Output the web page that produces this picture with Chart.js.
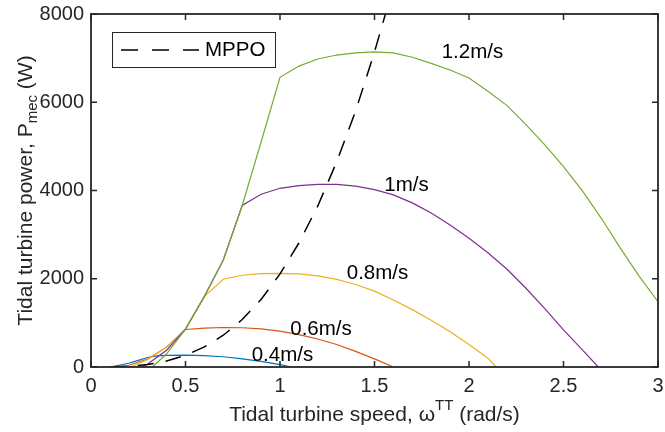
<!DOCTYPE html>
<html>
<head>
<meta charset="utf-8">
<script src="https://cdn.jsdelivr.net/npm/chart.js@4.4.1/dist/chart.umd.min.js"></script>
<style>
  html, body { margin: 0; padding: 0; background: #fff; }
  #wrap { width: 665px; height: 432px; }
</style>
</head>
<body>
<div id="wrap"><canvas id="chart" width="665" height="432"></canvas></div>
<script>
// Tidal turbine power vs rotor speed for five tidal speeds, plus the MPPO trajectory

const xTicks = [0, 0.5, 1, 1.5, 2, 2.5, 3];
const yTicks = [0, 2000, 4000, 6000, 8000];

const speedNames = ['0.4m/s', '0.6m/s', '0.8m/s', '1m/s', '1.2m/s'];
const mppoName = 'MPPO';

// rotor speed (rad/s) and mechanical power (W), one pair per tidal speed
const omega04 = [0.1, 0.2, 0.25, 0.3, 0.35, 0.4, 0.5, 0.6, 0.7, 0.8, 0.9, 1.0, 1.06];
const power04 = [0, 85, 150, 215, 252, 265, 268, 258, 232, 185, 128, 55, 0];

const omega06 = [0.16, 0.2, 0.3, 0.4, 0.5, 0.6, 0.7, 0.8, 0.9, 1.0, 1.1, 1.2, 1.3, 1.4, 1.5, 1.6];
const power06 = [0, 40, 180, 450, 850, 880, 895, 890, 865, 815, 735, 635, 510, 355, 185, 0];

const omega08 = [0.21, 0.3, 0.4, 0.5, 0.6, 0.7, 0.8, 0.9, 1.0, 1.1, 1.2, 1.3, 1.4, 1.5, 1.6, 1.7, 1.8, 1.9, 2.0, 2.1, 2.143];
const power08 = [0, 170, 450, 860, 1600, 1990, 2080, 2115, 2120, 2110, 2065, 1985, 1870, 1720, 1520, 1300, 1060, 800, 510, 200, 0];

const omega10 = [0.27, 0.3, 0.4, 0.5, 0.6, 0.7, 0.8, 0.9, 1.0, 1.1, 1.2, 1.3, 1.4, 1.5, 1.6, 1.7, 1.8, 1.9, 2.0, 2.1, 2.2, 2.3, 2.4, 2.5, 2.6, 2.684];
const power10 = [0, 70, 380, 860, 1600, 2425, 3660, 3915, 4050, 4110, 4140, 4140, 4100, 4020, 3900, 3720, 3490, 3220, 2920, 2590, 2220, 1790, 1330, 840, 390, 0];

const omega12 = [0.325, 0.4, 0.5, 0.6, 0.7, 0.8, 0.9, 1.0, 1.1, 1.2, 1.3, 1.4, 1.5, 1.6, 1.7, 1.8, 1.9, 2.0, 2.1, 2.2, 2.3, 2.4, 2.5, 2.6, 2.7, 2.8, 2.9, 3.0];
const power12 = [0, 300, 860, 1600, 2425, 3660, 5100, 6565, 6820, 6980, 7070, 7120, 7140, 7120, 7020, 6880, 6730, 6550, 6250, 5930, 5500, 5040, 4540, 3990, 3370, 2700, 2060, 1480];

const omegaMppo = [0.1, 0.2, 0.3, 0.4, 0.5, 0.6, 0.7, 0.8, 0.9, 1.0, 1.1, 1.2, 1.3, 1.4, 1.5, 1.56];
const powerMppo = [2, 17, 57, 135, 264, 455, 720, 1075, 1530, 2110, 2810, 3650, 4650, 5800, 7140, 8030];

// where each speed label sits, in data units (centre of text)
const labelOmega = [1.013, 1.217, 1.516, 1.669, 2.018];
const labelPower = [272, 861, 2130, 4124, 7138];

const COLORS = ['#0072BD', '#D95319', '#EDB120', '#7E2F8E', '#77AC30'];
const AXIS = '#262626';
const FONT = '"Liberation Sans", Arial, sans-serif';
const DASH = [16, 12];

function pairs(xs, ys) {
  return xs.map((x, i) => ({ x, y: ys[i] }));
}

const curves = [
  [omega04, power04], [omega06, power06], [omega08, power08],
  [omega10, power10], [omega12, power12]
];

// Chart.js puts dataset 0 on top, so MPPO first, then 1.2 down to 0.4
const datasets = [{
  label: mppoName,
  data: pairs(omegaMppo, powerMppo),
  borderColor: '#000',
  borderWidth: 1.5,
  borderDash: DASH,
  pointRadius: 0,
  tension: 0
}];
for (let i = curves.length - 1; i >= 0; i--) {
  datasets.push({
    label: speedNames[i],
    data: pairs(curves[i][0], curves[i][1]),
    borderColor: COLORS[i],
    borderWidth: 1.2,
    pointRadius: 0,
    tension: 0
  });
}

function drawRich(ctx, pieces, x, y) {
  let total = 0;
  pieces.forEach(p => {
    ctx.font = p.size + 'px ' + FONT;
    p.w = ctx.measureText(p.text).width;
    total += p.w;
  });
  let cx = x - total / 2;
  pieces.forEach(p => {
    ctx.font = p.size + 'px ' + FONT;
    ctx.fillText(p.text, cx, y + (p.dy || 0));
    cx += p.w;
  });
}

const decorPlugin = {
  id: 'decor',
  afterDraw(chart) {
    const { ctx, chartArea: a, scales } = chart;
    const xs = scales.x, ys = scales.y;
    ctx.save();

    // box and inward ticks on all four sides
    ctx.strokeStyle = AXIS;
    ctx.lineWidth = 1.8;
    ctx.setLineDash([]);
    ctx.strokeRect(a.left, a.top, a.right - a.left, a.bottom - a.top);
    ctx.lineWidth = 1.5;
    ctx.beginPath();
    xTicks.forEach(v => {
      const px = xs.getPixelForValue(v);
      ctx.moveTo(px, a.bottom); ctx.lineTo(px, a.bottom - 6);
      ctx.moveTo(px, a.top); ctx.lineTo(px, a.top + 6);
    });
    yTicks.forEach(v => {
      const py = ys.getPixelForValue(v);
      ctx.moveTo(a.left, py); ctx.lineTo(a.left + 6, py);
      ctx.moveTo(a.right, py); ctx.lineTo(a.right - 6, py);
    });
    ctx.stroke();

    // speed labels
    ctx.fillStyle = '#000';
    ctx.textAlign = 'center';
    ctx.textBaseline = 'middle';
    ctx.font = '20.5px ' + FONT;
    speedNames.forEach((t, i) => {
      ctx.fillText(t, xs.getPixelForValue(labelOmega[i]), ys.getPixelForValue(labelPower[i]));
    });

    // legend box
    const lx = a.left + 21, ly = a.top + 18, lw = 163, lh = 35;
    ctx.fillStyle = '#fff';
    ctx.fillRect(lx, ly, lw, lh);
    ctx.strokeStyle = AXIS;
    ctx.lineWidth = 1;
    ctx.strokeRect(lx + 0.5, ly + 0.5, lw, lh);
    ctx.strokeStyle = '#000';
    ctx.lineWidth = 1.5;
    ctx.setLineDash([17, 14]);
    ctx.beginPath();
    ctx.moveTo(lx + 9, ly + 18);
    ctx.lineTo(lx + 87, ly + 18);
    ctx.stroke();
    ctx.setLineDash([]);
    ctx.fillStyle = '#000';
    ctx.textAlign = 'left';
    ctx.font = '20.5px ' + FONT;
    ctx.fillText(mppoName, lx + 93, ly + 18);

    // axis titles with super/subscripts
    ctx.fillStyle = AXIS;
    ctx.textAlign = 'left';
    ctx.textBaseline = 'alphabetic';
    drawRich(ctx, [
      { text: 'Tidal turbine speed, \u03c9', size: 21 },
      { text: 'TT', size: 15, dy: -11 },
      { text: ' (rad/s)', size: 21 }
    ], (a.left + a.right) / 2, 421);

    ctx.translate(32, (a.top + a.bottom) / 2);
    ctx.rotate(-Math.PI / 2);
    drawRich(ctx, [
      { text: 'Tidal turbine power, P', size: 21 },
      { text: 'mec', size: 15, dy: 5 },
      { text: ' (W)', size: 21 }
    ], 0, 0);

    ctx.restore();
  }
};

new Chart(document.getElementById('chart'), {
  type: 'line',
  data: { datasets },
  options: {
    responsive: false,
    animation: false,
    layout: { padding: { top: 14, right: 7, left: 0, bottom: 0 } },
    plugins: {
      legend: { display: false },
      tooltip: { enabled: false }
    },
    scales: {
      x: {
        type: 'linear',
        min: 0,
        max: 3,
        afterBuildTicks: s => { s.ticks = xTicks.map(v => ({ value: v })); },
        afterFit: s => { s.height = 65; s.paddingLeft = 0; s.paddingRight = 0; },
        grid: { display: false, drawTicks: false },
        border: { display: false },
        ticks: {
          padding: 7,
          color: AXIS,
          font: { family: FONT, size: 20 },
          maxRotation: 0,
          callback: v => String(v)
        }
      },
      y: {
        type: 'linear',
        min: 0,
        max: 8000,
        afterBuildTicks: s => { s.ticks = yTicks.map(v => ({ value: v })); },
        afterFit: s => { s.width = 91; s.paddingTop = 0; s.paddingBottom = 0; },
        grid: { display: false, drawTicks: false },
        border: { display: false },
        ticks: {
          padding: 7,
          color: AXIS,
          font: { family: FONT, size: 20 },
          callback: v => String(v)
        }
      }
    }
  },
  plugins: [decorPlugin]
});
</script>
</body>
</html>
